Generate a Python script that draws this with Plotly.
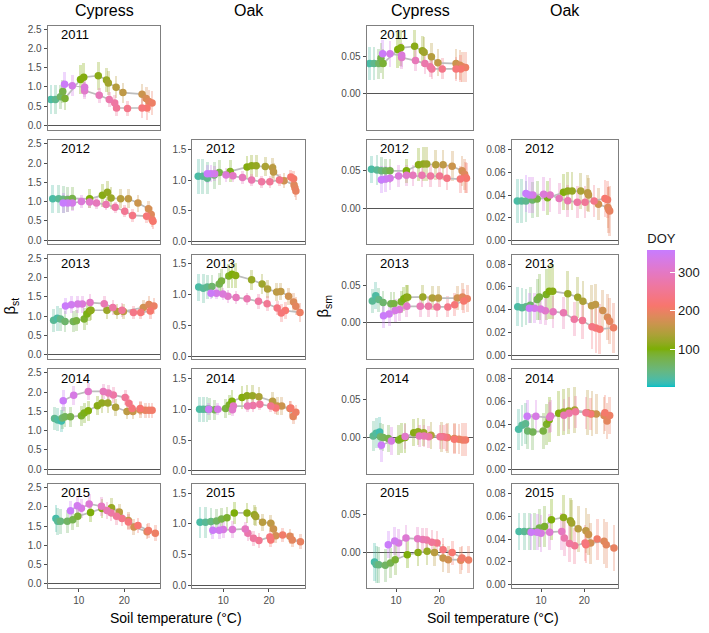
import plotly.graph_objects as go

# ---------------- data ----------------
years = [2011, 2012, 2013, 2014, 2015]
x_ticks = [10, 20]
doy_ticks = [100, 200, 300]
yticks_bst_cyp = [0.0, 0.5, 1.0, 1.5, 2.0, 2.5]
yticks_bst_oak = [0.0, 0.5, 1.0, 1.5]
yticks_bsm_cyp = [0.00, 0.05]
yticks_bsm_oak = [0.00, 0.02, 0.04, 0.06, 0.08]

# Cypress 2011
cyp2011_temp = [3.9, 4.9, 6.0, 6.5, 7.0, 10.4, 11.1, 14.3, 16.1, 16.5, 18.2, 19.7, 23.9, 24.8, 25.4, 26.1, 25.0, 23.9, 20.7, 18.3, 17.9, 16.7, 14.5, 11.3, 11.3, 8.6, 6.9]
cyp2011_doy = [20, 35, 60, 75, 85, 100, 105, 110, 118, 128, 145, 155, 165, 178, 188, 200, 212, 225, 240, 255, 265, 275, 288, 305, 320, 335, 350]
cyp2011_bst = [0.67, 0.67, 0.74, 0.88, 0.70, 1.19, 1.25, 1.29, 1.18, 1.10, 0.99, 0.85, 0.81, 0.70, 0.62, 0.58, 0.45, 0.45, 0.44, 0.45, 0.58, 0.67, 0.78, 0.90, 0.99, 1.03, 1.07]
cyp2011_bst_err = [0.37, 0.37, 0.32, 0.3, 0.3, 0.38, 0.36, 0.36, 0.32, 0.3, 0.28, 0.26, 0.26, 0.3, 0.3, 0.3, 0.3, 0.25, 0.2, 0.2, 0.2, 0.2, 0.2, 0.22, 0.25, 0.28, 0.32]
cyp2011_bsm = [0.040, 0.040, 0.040, 0.047, 0.040, 0.0586, 0.061, 0.063, 0.057, 0.055, 0.049, 0.041, 0.040, 0.038, 0.036, 0.035, 0.033, 0.033, 0.033, 0.033, 0.036, 0.040, 0.044, 0.048, 0.051, 0.053, 0.053]
cyp2011_bsm_err = [0.022, 0.022, 0.02, 0.02, 0.02, 0.024, 0.024, 0.022, 0.02, 0.02, 0.018, 0.018, 0.02, 0.02, 0.02, 0.02, 0.018, 0.016, 0.014, 0.014, 0.014, 0.014, 0.014, 0.015, 0.016, 0.017, 0.018]

# Cypress 2012
cyp2012_temp = [4.3, 5.6, 6.6, 7.6, 8.6, 12.4, 15.2, 16.3, 17.1, 19.2, 20.9, 23.0, 25.3, 25.9, 26.1, 26.3, 24.9, 21.8, 20.1, 18.0, 16.0, 13.9, 12.4, 10.6, 8.6, 7.6, 6.6]
cyp2012_doy = [20, 30, 45, 60, 75, 100, 108, 115, 122, 145, 155, 165, 175, 185, 198, 210, 222, 235, 250, 265, 278, 290, 305, 320, 335, 345, 355]
cyp2012_bst = [1.07, 1.07, 1.06, 1.05, 1.08, 1.07, 1.16, 1.24, 1.09, 1.07, 1.07, 0.96, 0.81, 0.66, 0.53, 0.49, 0.62, 0.64, 0.75, 0.85, 0.92, 0.96, 0.99, 1.00, 0.96, 0.96, 0.96]
cyp2012_bst_err = [0.37, 0.36, 0.35, 0.32, 0.3, 0.25, 0.3, 0.3, 0.28, 0.25, 0.25, 0.22, 0.2, 0.2, 0.2, 0.2, 0.18, 0.16, 0.15, 0.15, 0.15, 0.15, 0.15, 0.18, 0.2, 0.22, 0.25]
cyp2012_bsm = [0.052, 0.051, 0.050, 0.050, 0.050, 0.050, 0.058, 0.059, 0.059, 0.058, 0.058, 0.056, 0.050, 0.045, 0.041, 0.040, 0.039, 0.040, 0.043, 0.043, 0.044, 0.044, 0.044, 0.043, 0.040, 0.039, 0.038]
cyp2012_bsm_err = [0.018, 0.02, 0.018, 0.016, 0.016, 0.016, 0.022, 0.022, 0.022, 0.02, 0.02, 0.02, 0.02, 0.02, 0.02, 0.02, 0.018, 0.016, 0.015, 0.015, 0.015, 0.014, 0.014, 0.015, 0.016, 0.017, 0.018]

# Cypress 2013
cyp2013_temp = [4.5, 5.3, 6.0, 7.0, 8.8, 9.5, 11.2, 11.8, 12.4, 12.7, 16.2, 18.4, 19.8, 24.2, 25.4, 26.5, 25.7, 23.6, 22.0, 19.5, 17.5, 15.6, 12.5, 10.8, 9.8, 8.4, 7.1]
cyp2013_doy = [30, 22, 40, 55, 68, 78, 88, 96, 104, 112, 122, 140, 150, 170, 185, 198, 210, 222, 238, 255, 268, 282, 300, 318, 330, 342, 352]
cyp2013_bst = [0.89, 0.94, 0.92, 0.86, 0.86, 0.88, 0.92, 1.05, 1.13, 1.15, 1.15, 1.12, 1.12, 1.22, 1.30, 1.26, 1.13, 1.09, 1.09, 1.15, 1.22, 1.32, 1.35, 1.31, 1.31, 1.29, 1.26]
cyp2013_bst_err = [0.3, 0.32, 0.3, 0.28, 0.28, 0.28, 0.28, 0.28, 0.25, 0.25, 0.22, 0.2, 0.2, 0.2, 0.22, 0.22, 0.2, 0.18, 0.18, 0.18, 0.2, 0.2, 0.22, 0.22, 0.22, 0.22, 0.22]
cyp2013_bsm = [0.029, 0.036, 0.031, 0.027, 0.0255, 0.0255, 0.028, 0.032, 0.034, 0.034, 0.0345, 0.033, 0.033, 0.033, 0.0345, 0.032, 0.029, 0.0243, 0.0213, 0.0213, 0.022, 0.022, 0.022, 0.0177, 0.0165, 0.012, 0.0097]
cyp2013_bsm_err = [0.016, 0.018, 0.016, 0.015, 0.015, 0.015, 0.015, 0.016, 0.016, 0.016, 0.016, 0.016, 0.016, 0.016, 0.018, 0.018, 0.016, 0.015, 0.014, 0.014, 0.014, 0.014, 0.014, 0.015, 0.015, 0.016, 0.016]

# Cypress 2014
cyp2014_temp = [4.7, 5.4, 6.2, 6.4, 7.0, 8.2, 10.6, 11.2, 12.1, 14.1, 15.1, 16.4, 18.1, 20.6, 21.9, 23.5, 24.6, 25.4, 26.1, 23.5, 21.7, 21.0, 20.2, 17.6, 16.5, 15.4, 12.1, 8.9, 6.6]
cyp2014_doy = [35, 25, 15, 55, 65, 75, 88, 95, 102, 108, 115, 122, 138, 152, 162, 178, 196, 200, 205, 215, 225, 240, 255, 268, 280, 290, 305, 330, 350]
cyp2014_bst = [1.32, 1.28, 1.25, 1.33, 1.36, 1.36, 1.39, 1.46, 1.52, 1.65, 1.72, 1.72, 1.61, 1.50, 1.50, 1.54, 1.53, 1.53, 1.53, 1.58, 1.58, 1.71, 1.86, 1.93, 1.98, 2.02, 2.02, 1.92, 1.78]
cyp2014_bst_err = [0.3, 0.3, 0.28, 0.28, 0.26, 0.26, 0.26, 0.26, 0.26, 0.25, 0.25, 0.25, 0.22, 0.2, 0.2, 0.2, 0.2, 0.2, 0.2, 0.18, 0.18, 0.2, 0.2, 0.2, 0.2, 0.2, 0.22, 0.25, 0.28]
cyp2014_bsm = [0.002, 0.0057, 0.0075, 0.001, 0.000, -0.001, -0.003, -0.001, 0.000, 0.0066, 0.0079, 0.0066, 0.0031, 0.001, 0.000, -0.001, -0.002, -0.003, -0.003, -0.002, 0.000, 0.001, 0.001, 0.001, 0.002, 0.002, 0.0015, -0.0045, -0.0102]
cyp2014_bsm_err = [0.02, 0.02, 0.02, 0.018, 0.018, 0.018, 0.02, 0.02, 0.02, 0.018, 0.018, 0.018, 0.018, 0.02, 0.02, 0.02, 0.02, 0.022, 0.022, 0.02, 0.018, 0.016, 0.016, 0.015, 0.015, 0.015, 0.016, 0.018, 0.022]

# Cypress 2015
cyp2015_temp = [5.0, 5.4, 6.0, 7.5, 8.7, 9.8, 12.6, 15.1, 17.2, 18.9, 20.9, 22.1, 25.0, 26.8, 25.3, 23.0, 20.9, 19.5, 18.3, 17.1, 16.2, 15.0, 12.3, 10.6, 9.7, 8.2]
cyp2015_doy = [18, 30, 45, 60, 72, 85, 98, 108, 118, 148, 162, 172, 188, 200, 205, 215, 228, 240, 255, 268, 280, 298, 315, 328, 340, 352]
cyp2015_bst = [1.70, 1.63, 1.63, 1.63, 1.67, 1.76, 1.86, 1.96, 1.98, 1.87, 1.65, 1.48, 1.36, 1.32, 1.39, 1.52, 1.61, 1.70, 1.76, 1.85, 1.91, 2.02, 2.08, 1.97, 2.03, 1.90]
cyp2015_bst_err = [0.35, 0.35, 0.32, 0.3, 0.28, 0.28, 0.25, 0.25, 0.25, 0.22, 0.22, 0.2, 0.2, 0.2, 0.2, 0.2, 0.2, 0.2, 0.22, 0.22, 0.22, 0.25, 0.25, 0.25, 0.25, 0.25]
cyp2015_bsm = [-0.0128, -0.016, -0.0165, -0.017, -0.0142, -0.0098, -0.0031, 0.0000, 0.0016, -0.0002, -0.0075, -0.0097, -0.0104, -0.010, -0.0075, -0.0002, 0.0035, 0.0125, 0.0135, 0.0166, 0.017, 0.018, 0.019, 0.0125, 0.0152, 0.0101]
cyp2015_bsm_err = [0.025, 0.025, 0.024, 0.022, 0.02, 0.02, 0.018, 0.018, 0.018, 0.018, 0.018, 0.018, 0.018, 0.018, 0.016, 0.016, 0.016, 0.016, 0.016, 0.016, 0.016, 0.016, 0.018, 0.018, 0.018, 0.018]

# Oak 2012
oak2012_temp = [4.5, 5.5, 6.5, 8.0, 9.1, 11.5, 15.2, 16.2, 17.2, 19.2, 20.8, 21.0, 23.3, 25.5, 25.7, 25.9, 25.4, 24.8, 22.3, 20.2, 18.4, 16.2, 14.2, 12.1, 10.6, 8.1, 7.3, 6.5]
oak2012_doy = [20, 28, 35, 55, 75, 95, 105, 112, 118, 135, 150, 155, 170, 185, 190, 195, 205, 212, 240, 255, 265, 278, 290, 300, 318, 332, 343, 354]
oak2012_bst = [1.06, 1.06, 1.03, 1.08, 1.12, 1.14, 1.21, 1.23, 1.23, 1.22, 1.20, 1.13, 0.99, 0.92, 0.87, 0.82, 1.02, 1.05, 1.00, 0.97, 0.97, 1.00, 1.04, 1.07, 1.08, 1.10, 1.10, 1.10]
oak2012_bst_err = [0.28, 0.28, 0.26, 0.22, 0.2, 0.18, 0.18, 0.18, 0.18, 0.16, 0.16, 0.15, 0.12, 0.14, 0.14, 0.15, 0.12, 0.12, 0.1, 0.1, 0.1, 0.1, 0.1, 0.1, 0.12, 0.12, 0.14, 0.15]
oak2012_bsm = [0.0347, 0.0347, 0.0347, 0.0356, 0.0365, 0.0377, 0.0425, 0.0435, 0.0435, 0.0435, 0.042, 0.040, 0.032, 0.029, 0.027, 0.026, 0.036, 0.037, 0.0349, 0.0338, 0.0338, 0.035, 0.037, 0.040, 0.0407, 0.040, 0.040, 0.0414]
oak2012_bsm_err = [0.019, 0.019, 0.018, 0.016, 0.016, 0.015, 0.016, 0.017, 0.017, 0.016, 0.016, 0.015, 0.014, 0.018, 0.02, 0.022, 0.016, 0.016, 0.014, 0.014, 0.014, 0.014, 0.014, 0.015, 0.015, 0.016, 0.016, 0.016]

# Oak 2013
oak2013_temp = [4.6, 5.6, 6.5, 7.5, 9.1, 9.6, 11.2, 11.9, 12.7, 16.2, 18.5, 19.7, 21.7, 22.6, 24.3, 25.4, 25.9, 26.8, 23.6, 22.7, 21.8, 19.6, 17.7, 15.2, 12.8, 11.0, 9.9, 8.5, 7.3]
oak2013_doy = [20, 28, 35, 55, 70, 80, 92, 100, 108, 118, 125, 138, 152, 155, 170, 182, 190, 200, 215, 222, 232, 250, 265, 280, 292, 305, 320, 335, 350]
oak2013_bst = [1.12, 1.10, 1.12, 1.13, 1.17, 1.22, 1.30, 1.33, 1.31, 1.24, 1.17, 1.09, 1.04, 1.05, 0.97, 0.88, 0.81, 0.71, 0.74, 0.70, 0.78, 0.85, 0.89, 0.93, 0.95, 0.97, 1.01, 1.02, 1.02]
oak2013_bst_err = [0.22, 0.24, 0.2, 0.18, 0.18, 0.2, 0.2, 0.22, 0.2, 0.16, 0.16, 0.15, 0.14, 0.14, 0.14, 0.15, 0.15, 0.15, 0.14, 0.14, 0.12, 0.12, 0.12, 0.1, 0.1, 0.1, 0.1, 0.1, 0.1]
oak2013_bsm = [0.0424, 0.0416, 0.0424, 0.0438, 0.0488, 0.051, 0.0532, 0.056, 0.056, 0.054, 0.0509, 0.0473, 0.0434, 0.0445, 0.0391, 0.0333, 0.0298, 0.024, 0.0228, 0.0237, 0.025, 0.0304, 0.0316, 0.0371, 0.038, 0.039, 0.0406, 0.0412, 0.0412]
oak2013_bsm_err = [0.017, 0.017, 0.016, 0.016, 0.018, 0.02, 0.022, 0.024, 0.024, 0.02, 0.018, 0.018, 0.018, 0.018, 0.018, 0.02, 0.02, 0.022, 0.022, 0.022, 0.02, 0.016, 0.015, 0.014, 0.014, 0.013, 0.013, 0.013, 0.013]

# Oak 2014
oak2014_temp = [4.8, 5.6, 6.4, 6.9, 8.1, 10.5, 11.3, 11.9, 14.1, 15.2, 16.4, 17.8, 20.8, 21.8, 22.8, 24.6, 25.3, 25.9, 24.8, 21.5, 20.4, 18.0, 16.5, 15.3, 12.2, 12.0, 8.8, 6.8]
oak2014_doy = [20, 28, 35, 55, 68, 80, 90, 98, 105, 112, 120, 135, 150, 160, 165, 182, 190, 200, 208, 220, 245, 260, 270, 282, 300, 305, 330, 348]
oak2014_bst = [1.00, 1.00, 1.00, 1.00, 0.99, 1.01, 1.07, 1.13, 1.19, 1.22, 1.22, 1.20, 1.13, 1.05, 1.05, 1.01, 0.88, 0.95, 1.02, 1.02, 1.05, 1.08, 1.06, 1.05, 1.05, 0.99, 1.00, 1.00]
oak2014_bst_err = [0.2, 0.2, 0.2, 0.18, 0.16, 0.16, 0.16, 0.18, 0.18, 0.18, 0.18, 0.16, 0.15, 0.14, 0.14, 0.12, 0.12, 0.12, 0.12, 0.1, 0.1, 0.1, 0.1, 0.1, 0.1, 0.1, 0.1, 0.1]
oak2014_bsm = [0.0356, 0.0391, 0.0405, 0.034, 0.0333, 0.034, 0.040, 0.044, 0.0496, 0.0508, 0.0517, 0.0525, 0.0502, 0.0493, 0.049, 0.0476, 0.0429, 0.0476, 0.050, 0.049, 0.0502, 0.051, 0.0496, 0.048, 0.0472, 0.0459, 0.047, 0.047]
oak2014_bsm_err = [0.018, 0.018, 0.018, 0.016, 0.016, 0.016, 0.018, 0.02, 0.02, 0.02, 0.02, 0.02, 0.02, 0.02, 0.018, 0.016, 0.016, 0.016, 0.016, 0.014, 0.014, 0.014, 0.014, 0.014, 0.014, 0.014, 0.014, 0.014]

# Oak 2015
oak2015_temp = [4.9, 6.1, 7.3, 8.5, 9.6, 10.8, 12.4, 15.2, 16.8, 17.1, 18.6, 20.4, 21.0, 21.5, 24.6, 25.1, 26.9, 23.0, 20.4, 20.2, 17.8, 16.6, 15.4, 14.8, 12.0, 10.0, 9.1, 7.7]
oak2015_doy = [20, 30, 42, 60, 75, 88, 100, 110, 118, 128, 148, 155, 165, 175, 185, 190, 195, 205, 218, 228, 250, 262, 275, 295, 315, 328, 340, 350]
oak2015_bst = [1.03, 1.03, 1.04, 1.05, 1.08, 1.10, 1.18, 1.18, 1.15, 1.12, 1.03, 1.01, 0.92, 0.81, 0.80, 0.74, 0.71, 0.82, 0.74, 0.79, 0.73, 0.77, 0.85, 0.92, 0.91, 0.91, 0.90, 0.90]
oak2015_bst_err = [0.25, 0.25, 0.22, 0.2, 0.18, 0.18, 0.18, 0.16, 0.16, 0.15, 0.14, 0.14, 0.12, 0.12, 0.12, 0.12, 0.12, 0.12, 0.12, 0.12, 0.12, 0.12, 0.12, 0.12, 0.14, 0.14, 0.14, 0.14]
oak2015_bsm = [0.0467, 0.0467, 0.0467, 0.0467, 0.0496, 0.051, 0.0569, 0.059, 0.056, 0.054, 0.049, 0.0473, 0.044, 0.0365, 0.038, 0.035, 0.0321, 0.040, 0.035, 0.0365, 0.0341, 0.036, 0.0409, 0.0467, 0.046, 0.045, 0.046, 0.046]
oak2015_bsm_err = [0.016, 0.016, 0.016, 0.016, 0.017, 0.018, 0.018, 0.02, 0.02, 0.02, 0.02, 0.02, 0.018, 0.018, 0.02, 0.02, 0.02, 0.018, 0.016, 0.016, 0.016, 0.016, 0.016, 0.016, 0.016, 0.016, 0.016, 0.016]

# ---------------- colour scale (ggplot-style Lab gradient) ----------------
CMIN, CMAX = 1, 357
COLOR_STOPS = [(1, "#00BFC4"), (100, "#7CAE00"), (212, "#F8766D"), (357, "#C77CFF")]


def _hex_to_lab(h):
    rgb = [int(h[i:i + 2], 16) / 255 for i in (1, 3, 5)]
    lin = [c / 12.92 if c <= 0.04045 else ((c + 0.055) / 1.055) ** 2.4 for c in rgb]
    r, g, b = lin
    X = (0.4124 * r + 0.3576 * g + 0.1805 * b) / 0.95047
    Y = 0.2126 * r + 0.7152 * g + 0.0722 * b
    Z = (0.0193 * r + 0.1192 * g + 0.9505 * b) / 1.08883
    d = 6 / 29
    f = lambda t: t ** (1 / 3) if t > d ** 3 else t / (3 * d * d) + 4 / 29
    fx, fy, fz = f(X), f(Y), f(Z)
    return (116 * fy - 16, 500 * (fx - fy), 200 * (fy - fz))


def _lab_to_hex(L, a, b):
    d = 6 / 29
    fy = (L + 16) / 116
    fx = fy + a / 500
    fz = fy - b / 200
    finv = lambda t: t ** 3 if t > d else 3 * d * d * (t - 4 / 29)
    X, Y, Z = 0.95047 * finv(fx), finv(fy), 1.08883 * finv(fz)
    r = 3.2406 * X - 1.5372 * Y - 0.4986 * Z
    g = -0.9689 * X + 1.8758 * Y + 0.0415 * Z
    bb = 0.0557 * X - 0.2040 * Y + 1.0570 * Z
    out = []
    for c in (r, g, bb):
        c = 12.92 * c if c <= 0.0031308 else 1.055 * c ** (1 / 2.4) - 0.055
        out.append(max(0, min(255, round(c * 255))))
    return "#%02X%02X%02X" % tuple(out)


CSCALE = []
_labs = [(v, _hex_to_lab(h)) for v, h in COLOR_STOPS]
NSTEP = 80
for i in range(NSTEP + 1):
    v = CMIN + (CMAX - CMIN) * i / NSTEP
    for (v0, l0), (v1, l1) in zip(_labs[:-1], _labs[1:]):
        if v0 <= v <= v1:
            w = (v - v0) / (v1 - v0)
            lab = [l0[j] + w * (l1[j] - l0[j]) for j in range(3)]
            CSCALE.append([i / NSTEP, _lab_to_hex(*lab)])
            break

# ---------------- layout constants ----------------
W, H = 709, 633
FONT = "Liberation Sans, Arial, sans-serif"
COL_PX = {"cst": (47.7, 160.3), "ost": (192.3, 305.0), "csm": (366.7, 473.3), "osm": (511.7, 618.3)}
ROW_TOP = {2011: 23.7, 2012: 139.3, 2013: 254.7, 2014: 370.3, 2015: 486.0}
PANEL_H = 105.0
XRANGE = [3.2, 27.9]
YRANGE = {"cst": [-0.113, 2.593], "ost": [-0.044, 1.646], "csm": [-0.0477, 0.0906], "osm": [-0.0033, 0.0882]}
YTICKS = {"cst": yticks_bst_cyp, "ost": yticks_bst_oak, "csm": yticks_bsm_cyp, "osm": yticks_bsm_oak}
YFMT = {"cst": ".1f", "ost": ".1f", "csm": ".2f", "osm": ".2f"}

cyp = {2011: (cyp2011_temp, cyp2011_doy, cyp2011_bst, cyp2011_bst_err, cyp2011_bsm, cyp2011_bsm_err),
       2012: (cyp2012_temp, cyp2012_doy, cyp2012_bst, cyp2012_bst_err, cyp2012_bsm, cyp2012_bsm_err),
       2013: (cyp2013_temp, cyp2013_doy, cyp2013_bst, cyp2013_bst_err, cyp2013_bsm, cyp2013_bsm_err),
       2014: (cyp2014_temp, cyp2014_doy, cyp2014_bst, cyp2014_bst_err, cyp2014_bsm, cyp2014_bsm_err),
       2015: (cyp2015_temp, cyp2015_doy, cyp2015_bst, cyp2015_bst_err, cyp2015_bsm, cyp2015_bsm_err)}
oak = {2012: (oak2012_temp, oak2012_doy, oak2012_bst, oak2012_bst_err, oak2012_bsm, oak2012_bsm_err),
       2013: (oak2013_temp, oak2013_doy, oak2013_bst, oak2013_bst_err, oak2013_bsm, oak2013_bsm_err),
       2014: (oak2014_temp, oak2014_doy, oak2014_bst, oak2014_bst_err, oak2014_bsm, oak2014_bsm_err),
       2015: (oak2015_temp, oak2015_doy, oak2015_bst, oak2015_bst_err, oak2015_bsm, oak2015_bsm_err)}

panels = []
for yr in years:
    if yr in cyp:
        t, d, bst, bste, bsm, bsme = cyp[yr]
        panels.append(("cst", yr, t, d, bst, bste))
        panels.append(("csm", yr, t, d, bsm, bsme))
    if yr in oak:
        t, d, bst, bste, bsm, bsme = oak[yr]
        panels.append(("ost", yr, t, d, bst, bste))
        panels.append(("osm", yr, t, d, bsm, bsme))

fig = go.Figure()
layout = {}
annotations = []
first = True
for k, (col, yr, t, d, v, e) in enumerate(panels, start=1):
    xa = "x" if k == 1 else f"x{k}"
    ya = "y" if k == 1 else f"y{k}"
    x0, x1 = COL_PX[col]
    top = ROW_TOP[yr]
    bottom = top + PANEL_H
    bar_w = 0.6 if col in ("cst", "ost") else 0.63
    fig.add_trace(go.Bar(
        x=t, y=[2 * ee for ee in e], base=[vv - ee for vv, ee in zip(v, e)],
        width=bar_w, xaxis=xa, yaxis=ya, showlegend=False, hoverinfo="skip",
        marker=dict(color=d, colorscale=CSCALE, cmin=CMIN, cmax=CMAX,
                    line=dict(width=0), opacity=0.3)))
    fig.add_trace(go.Scatter(
        x=t, y=v, mode="lines", xaxis=xa, yaxis=ya, showlegend=False,
        line=dict(color="#BDBDBD", width=1.7), hoverinfo="skip"))
    mk = dict(size=7.5, color=d, colorscale=CSCALE, cmin=CMIN, cmax=CMAX,
              line=dict(width=0), showscale=first)
    if first:
        mk["colorbar"] = dict(
            title=dict(text="DOY", side="top", font=dict(size=13, family=FONT, color="#1a1a1a")),
            thickness=28, thicknessmode="pixels",
            len=157, lenmode="pixels",
            x=647.3 / W, xanchor="left", y=1 - 230 / H, yanchor="top",
            xpad=0, ypad=0, outlinewidth=0,
            tickvals=doy_ticks, ticks="inside", ticklen=5, tickcolor="white",
            tickfont=dict(size=13, family=FONT, color="#1a1a1a"))
        first = False
    fig.add_trace(go.Scatter(x=t, y=v, mode="markers", xaxis=xa, yaxis=ya,
                             showlegend=False, marker=mk))

    bottom_row = (yr == 2015)
    layout["xaxis" if k == 1 else f"xaxis{k}"] = dict(
        domain=[x0 / W, x1 / W], anchor=ya, range=XRANGE,
        showgrid=False, zeroline=False, showline=True, mirror=True,
        linecolor="#7f7f7f", linewidth=1,
        tickvals=x_ticks, ticks="outside" if bottom_row else "", ticklen=3,
        tickcolor="#4d4d4d", showticklabels=bottom_row,
        tickfont=dict(size=10, family=FONT, color="#4d4d4d"))
    layout["yaxis" if k == 1 else f"yaxis{k}"] = dict(
        domain=[1 - bottom / H, 1 - top / H], anchor=xa, range=YRANGE[col],
        showgrid=False, zeroline=True, zerolinecolor="#555555", zerolinewidth=1,
        showline=True, mirror=True, linecolor="#7f7f7f", linewidth=1,
        tickvals=YTICKS[col], tickformat=YFMT[col], ticks="outside", ticklen=3,
        tickcolor="#4d4d4d",
        tickfont=dict(size=10, family=FONT, color="#4d4d4d"))
    annotations.append(dict(
        text=str(yr), x=(x0 + 11.5) / W, y=1 - (top + 8.8) / H, xref="paper", yref="paper",
        xanchor="left", yanchor="middle", showarrow=False,
        font=dict(size=13, family=FONT, color="black")))

# column titles
for col, name in [("cst", "Cypress"), ("ost", "Oak"), ("csm", "Cypress"), ("osm", "Oak")]:
    x0, x1 = COL_PX[col]
    annotations.append(dict(text=name, x=(x0 + x1) / 2 / W, y=1 - 9 / H, xref="paper", yref="paper",
                            xanchor="center", yanchor="middle", showarrow=False,
                            font=dict(size=16, family=FONT, color="black")))
# axis titles
annotations.append(dict(text="β<sub>st</sub>", x=11 / W, y=1 - 307 / H, xref="paper", yref="paper",
                        textangle=-90, xanchor="center", yanchor="middle", showarrow=False,
                        font=dict(size=15, family=FONT, color="black")))
annotations.append(dict(text="β<sub>sm</sub>", x=324 / W, y=1 - 307 / H, xref="paper", yref="paper",
                        textangle=-90, xanchor="center", yanchor="middle", showarrow=False,
                        font=dict(size=15, family=FONT, color="black")))
for cx in [(47.7 + 305.0) / 2, (366.7 + 618.3) / 2]:
    annotations.append(dict(text="Soil temperature (°C)", x=cx / W, y=1 - 621 / H,
                            xref="paper", yref="paper", xanchor="center", yanchor="middle",
                            showarrow=False, font=dict(size=14, family=FONT, color="black")))

fig.update_layout(
    width=W, height=H, autosize=False,
    margin=dict(l=0, r=0, t=0, b=0),
    paper_bgcolor="white", plot_bgcolor="white",
    barmode="overlay", bargap=0,
    annotations=annotations,
    font=dict(family=FONT),
    **layout)

fig.write_html("out.html", config={"displayModeBar": False, "staticPlot": True},
               post_script="document.body.style.margin='0';document.body.style.overflow='hidden';")
